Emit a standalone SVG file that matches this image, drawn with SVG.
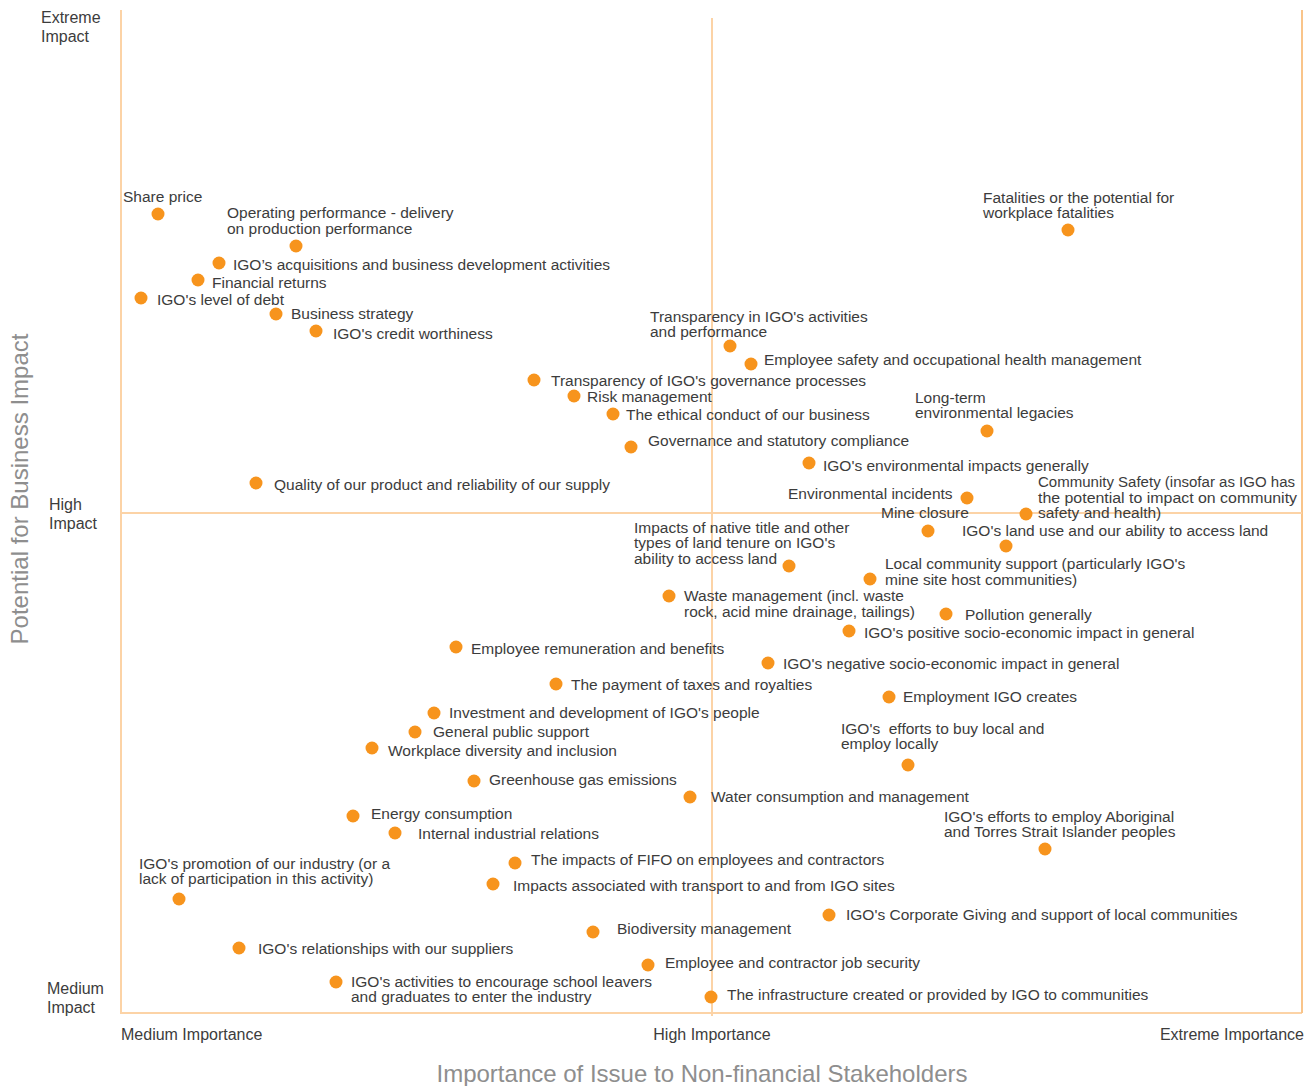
<svg xmlns="http://www.w3.org/2000/svg" width="1304" height="1086" viewBox="0 0 1304 1086">
<style>
text{font-family:"Liberation Sans",Arial,sans-serif;font-size:15.5px;fill:#3c3c3c}
.c{font-size:16px}
.d{fill:#f7941d}
.ax{stroke:#fcd3a6;stroke-width:2;fill:none}
.axr{stroke:#f9c48a;stroke-width:2;fill:none}
.t{font-size:24px;fill:#8e8e8e}
</style>
<rect width="1304" height="1086" fill="#ffffff"/>
<g id="axes">
<path class="ax" d="M121,10 V1013 H1302"/>
<path class="axr" d="M1302,10 V1013"/>
<path class="ax" d="M712,18 V1016"/>
<path class="ax" d="M121,513 H1302"/>
</g>
<g id="axis-labels">
<text class="c" x="41" y="23">Extreme</text><text class="c" x="41" y="42">Impact</text>
<text class="c" x="49" y="510">High</text><text class="c" x="49" y="529">Impact</text>
<text class="c" x="47" y="994">Medium</text><text class="c" x="47" y="1013">Impact</text>
<text class="c" x="121" y="1040">Medium Importance</text>
<text class="c" x="712" y="1040" text-anchor="middle">High Importance</text>
<text class="c" x="1304" y="1040" text-anchor="end">Extreme Importance</text>
<text class="t" x="702" y="1082" text-anchor="middle">Importance of Issue to Non-financial Stakeholders</text>
<text class="t" transform="translate(28,489) rotate(-90)" text-anchor="middle">Potential for Business Impact</text>
</g>
<g id="connectors"></g>
<g id="n1"><circle class="d" cx="158" cy="214" r="6.5"/><text x="123" y="202">Share price</text></g>
<g id="n2"><circle class="d" cx="296" cy="246" r="6.5"/><text x="227" y="218">Operating performance - delivery</text><text x="227" y="234">on production performance</text></g>
<g id="n3"><circle class="d" cx="219" cy="263" r="6.5"/><text x="233" y="270">IGO’s acquisitions and business development activities</text></g>
<g id="n4"><circle class="d" cx="198" cy="280" r="6.5"/><text x="212" y="288">Financial returns</text></g>
<g id="n5"><circle class="d" cx="141" cy="298" r="6.5"/><text x="157" y="305">IGO's level of debt</text></g>
<g id="n6"><circle class="d" cx="276" cy="314" r="6.5"/><text x="291" y="319">Business strategy</text></g>
<g id="n7"><circle class="d" cx="316" cy="331" r="6.5"/><text x="333" y="339">IGO's credit worthiness</text></g>
<g id="n8"><circle class="d" cx="730" cy="346" r="6.5"/><text x="650" y="322">Transparency in IGO's activities</text><text x="650" y="337">and performance</text></g>
<g id="n9"><circle class="d" cx="751" cy="364" r="6.5"/><text x="764" y="365">Employee safety and occupational health management</text></g>
<g id="n10"><circle class="d" cx="1068" cy="230" r="6.5"/><text x="983" y="203">Fatalities or the potential for</text><text x="983" y="218">workplace fatalities</text></g>
<g id="n11"><circle class="d" cx="534" cy="380" r="6.5"/><text x="551" y="386">Transparency of IGO's governance processes</text></g>
<g id="n12"><circle class="d" cx="574" cy="396" r="6.5"/><text x="587" y="402">Risk management</text></g>
<g id="n13"><circle class="d" cx="613" cy="414" r="6.5"/><text x="626" y="420">The ethical conduct of our business</text></g>
<g id="n14"><circle class="d" cx="987" cy="431" r="6.5"/><text x="915" y="403">Long-term</text><text x="915" y="418">environmental legacies</text></g>
<g id="n15"><circle class="d" cx="631" cy="447" r="6.5"/><text x="648" y="446">Governance and statutory compliance</text></g>
<g id="n16"><circle class="d" cx="809" cy="463" r="6.5"/><text x="823" y="471">IGO's environmental impacts generally</text></g>
<g id="n17"><circle class="d" cx="256" cy="483" r="6.5"/><text x="274" y="490">Quality of our product and reliability of our supply</text></g>
<g id="n18"><circle class="d" cx="967" cy="498" r="6.5"/><text x="788" y="499">Environmental incidents</text></g>
<g id="n19"><circle class="d" cx="1026" cy="514" r="6.5"/><text x="1038" y="487" textLength="257" lengthAdjust="spacingAndGlyphs">Community Safety (insofar as IGO has</text><text x="1038" y="503" textLength="259" lengthAdjust="spacingAndGlyphs">the potential to impact on community</text><text x="1038" y="518">safety and health)</text></g>
<g id="n20"><circle class="d" cx="928" cy="531" r="6.5"/><text x="881" y="518">Mine closure</text></g>
<g id="n21"><circle class="d" cx="1006" cy="546" r="6.5"/><text x="962" y="536">IGO's land use and our ability to access land</text></g>
<g id="n22"><circle class="d" cx="789" cy="566" r="6.5"/><text x="634" y="533">Impacts of native title and other</text><text x="634" y="548">types of land tenure on IGO's</text><text x="634" y="564">ability to access land</text></g>
<g id="n23"><circle class="d" cx="870" cy="579" r="6.5"/><text x="885" y="569">Local community support (particularly IGO's</text><text x="885" y="585">mine site host communities)</text></g>
<g id="n24"><circle class="d" cx="669" cy="596" r="6.5"/><text x="684" y="601">Waste management (incl. waste</text><text x="684" y="617">rock, acid mine drainage, tailings)</text></g>
<g id="n25"><circle class="d" cx="946" cy="614" r="6.5"/><text x="965" y="620">Pollution generally</text></g>
<g id="n26"><circle class="d" cx="849" cy="631" r="6.5"/><text x="864" y="638">IGO's positive socio-economic impact in general</text></g>
<g id="n27"><circle class="d" cx="456" cy="647" r="6.5"/><text x="471" y="654">Employee remuneration and benefits</text></g>
<g id="n28"><circle class="d" cx="768" cy="663" r="6.5"/><text x="783" y="669">IGO's negative socio-economic impact in general</text></g>
<g id="n29"><circle class="d" cx="556" cy="684" r="6.5"/><text x="571" y="690">The payment of taxes and royalties</text></g>
<g id="n30"><circle class="d" cx="889" cy="697" r="6.5"/><text x="903" y="702">Employment IGO creates</text></g>
<g id="n31"><circle class="d" cx="434" cy="713" r="6.5"/><text x="449" y="718">Investment and development of IGO's people</text></g>
<g id="n32"><circle class="d" cx="415" cy="732" r="6.5"/><text x="433" y="737">General public support</text></g>
<g id="n33"><circle class="d" cx="372" cy="748" r="6.5"/><text x="388" y="756">Workplace diversity and inclusion</text></g>
<g id="n34"><circle class="d" cx="908" cy="765" r="6.5"/><text x="841" y="734" xml:space="preserve">IGO's  efforts to buy local and</text><text x="841" y="749">employ locally</text></g>
<g id="n35"><circle class="d" cx="474" cy="781" r="6.5"/><text x="489" y="785">Greenhouse gas emissions</text></g>
<g id="n36"><circle class="d" cx="690" cy="797" r="6.5"/><text x="711" y="802">Water consumption and management</text></g>
<g id="n37"><circle class="d" cx="353" cy="816" r="6.5"/><text x="371" y="819">Energy consumption</text></g>
<g id="n38"><circle class="d" cx="395" cy="833" r="6.5"/><text x="418" y="839">Internal industrial relations</text></g>
<g id="n39"><circle class="d" cx="1045" cy="849" r="6.5"/><text x="944" y="822">IGO's efforts to employ Aboriginal</text><text x="944" y="837">and Torres Strait Islander peoples</text></g>
<g id="n40"><circle class="d" cx="515" cy="863" r="6.5"/><text x="531" y="865">The impacts of FIFO on employees and contractors</text></g>
<g id="n41"><circle class="d" cx="179" cy="899" r="6.5"/><text x="139" y="869">IGO's promotion of our industry (or a</text><text x="139" y="884">lack of participation in this activity)</text></g>
<g id="n42"><circle class="d" cx="493" cy="884" r="6.5"/><text x="513" y="891">Impacts associated with transport to and from IGO sites</text></g>
<g id="n43"><circle class="d" cx="829" cy="915" r="6.5"/><text x="846" y="920">IGO's Corporate Giving and support of local communities</text></g>
<g id="n44"><circle class="d" cx="593" cy="932" r="6.5"/><text x="617" y="934">Biodiversity management</text></g>
<g id="n45"><circle class="d" cx="239" cy="948" r="6.5"/><text x="258" y="954">IGO's relationships with our suppliers</text></g>
<g id="n46"><circle class="d" cx="648" cy="965" r="6.5"/><text x="665" y="968">Employee and contractor job security</text></g>
<g id="n47"><circle class="d" cx="336" cy="982" r="6.5"/><text x="351" y="987">IGO's activities to encourage school leavers</text><text x="351" y="1002">and graduates to enter the industry</text></g>
<g id="n48"><circle class="d" cx="711" cy="997" r="6.5"/><text x="727" y="1000">The infrastructure created or provided by IGO to communities</text></g>
</svg>
